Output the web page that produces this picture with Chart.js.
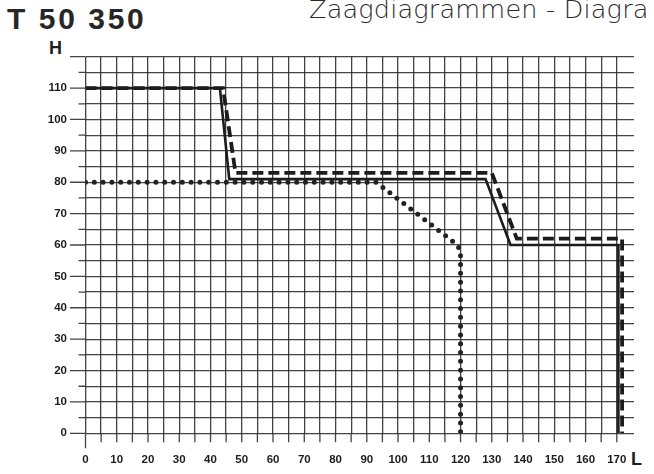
<!DOCTYPE html>
<html>
<head>
<meta charset="utf-8">
<script src="https://cdn.jsdelivr.net/npm/chart.js@4"></script>
<style>
  html, body { margin: 0; padding: 0; background: #fff; }
  body { width: 654px; height: 474px; position: relative; overflow: hidden; }
  #chart { position: absolute; left: 0; top: 0; }
  .txt { position: absolute; white-space: nowrap; color: #1e1e1e; }
  #title { left: 7px; top: 4px; font: bold 30px/30px 'Liberation Sans', Arial, sans-serif; letter-spacing: 2.6px; color: #262626; }
  #subtitle { left: 309px; top: -4px; font: 200 25.5px/26px 'DejaVu Sans', sans-serif; letter-spacing: 0.2px; color: #2a2a2a; }
  #hLabel { left: 49px; top: 39px; font: bold 18px/18px 'Liberation Sans', Arial, sans-serif; }
  #lLabel { left: 631px; top: 450px; font: bold 18px/18px 'Liberation Sans', Arial, sans-serif; }
</style>
</head>
<body>
<div class="txt" id="title">T 50 350</div>
<div class="txt" id="subtitle">Zaagdiagrammen - Diagra</div>
<div class="txt" id="hLabel">H</div>
<div class="txt" id="lLabel">L</div>
<canvas id="chart" width="654" height="474"></canvas>
<script>
'use strict';

// 데이터
const solidL  = [0, 43, 46, 128, 136, 170.5, 170.5];
const solidH  = [110, 110, 81, 81, 60, 60, 0];
const dashedL = [0, 44, 48, 130, 138, 171.7, 171.7];
const dashedH = [110, 110, 83, 83, 62, 62, 0];
const dottedL = [0, 93, 119, 120, 120];
const dottedH = [80, 80, 60, 58, 0];

const xLabelStep = 10;   // L 축 숫자 간격
const yLabelStep = 10;   // H 축 숫자 간격
const gridStep   = 5;
const xLast = 170, yLabelLast = 110;

const toPoints = (xs, ys) => xs.map((x, i) => ({ x, y: ys[i] }));

const INK  = '#1c1c1c';
const GRID = 'rgba(35,35,35,0.85)';
const tickFont = { family: "'Liberation Sans', Arial, sans-serif", size: 11.5, weight: 'bold' };

// 눈금 바깥쪽 짧은 선 (축 밖으로 나온 그리드)
const tickExt = {
  id: 'tickExt',
  beforeDatasetsDraw(chart) {
    const { ctx, chartArea: a, scales: { x, y } } = chart;
    ctx.save();
    ctx.strokeStyle = GRID;
    ctx.lineWidth = 1.3;
    ctx.beginPath();
    y.ticks.forEach(t => {
      const py = y.getPixelForValue(t.value);
      const len = t.value % yLabelStep === 0 ? 15.5 : 7;
      ctx.moveTo(a.left - len, py);
      ctx.lineTo(a.left, py);
    });
    x.ticks.forEach(t => {
      if (t.value > xLast) return;
      const px = x.getPixelForValue(t.value);
      const len = t.value === 0 ? 15 : 9;
      ctx.moveTo(px, a.bottom);
      ctx.lineTo(px, a.bottom + len);
    });
    ctx.stroke();
    ctx.restore();
  }
};

new Chart(document.getElementById('chart'), {
  type: 'scatter',
  data: {
    datasets: [
      {
        label: 'solid',
        data: toPoints(solidL, solidH),
        showLine: true,
        borderColor: INK,
        borderWidth: 2.6,
        borderJoinStyle: 'miter',
        pointRadius: 0,
        tension: 0
      },
      {
        label: 'dashed',
        data: toPoints(dashedL, dashedH),
        showLine: true,
        borderColor: INK,
        borderWidth: 3.8,
        borderDash: [11, 5],
        borderJoinStyle: 'miter',
        pointRadius: 0,
        tension: 0
      },
      {
        label: 'dotted',
        data: toPoints(dottedL, dottedH),
        showLine: true,
        borderColor: '#222',
        borderWidth: 5,
        borderDash: [0, 8.8],
        borderCapStyle: 'round',
        pointRadius: 0,
        tension: 0
      }
    ]
  },
  options: {
    responsive: false,
    animation: false,
    layout: { padding: { top: 56.7, right: 19, left: 0, bottom: 0 } },
    scales: {
      x: {
        type: 'linear',
        min: 0, max: 175.5,
        afterFit: s => { s.height = 40.7; },
        border: { display: false },
        grid: {
          drawTicks: false,
          lineWidth: 1.3,
          color: c => (c.tick && c.tick.value > xLast ? 'transparent' : GRID)
        },
        ticks: {
          stepSize: gridStep,
          autoSkip: false,
          maxRotation: 0, minRotation: 0,
          padding: 20,
          color: INK,
          font: tickFont,
          callback: v => (v % xLabelStep === 0 && v <= xLast ? v : '')
        }
      },
      y: {
        type: 'linear',
        min: 0, max: 120,
        afterFit: s => { s.width = 85.5; },
        border: { display: false },
        grid: { drawTicks: false, lineWidth: 1.3, color: GRID },
        ticks: {
          stepSize: gridStep,
          autoSkip: false,
          padding: 18.5,
          color: INK,
          font: tickFont,
          callback: v => (v % yLabelStep === 0 && v <= yLabelLast ? v : '')
        }
      }
    },
    plugins: {
      legend: { display: false },
      tooltip: { enabled: false }
    }
  },
  plugins: [tickExt]
});
</script>
</body>
</html>
